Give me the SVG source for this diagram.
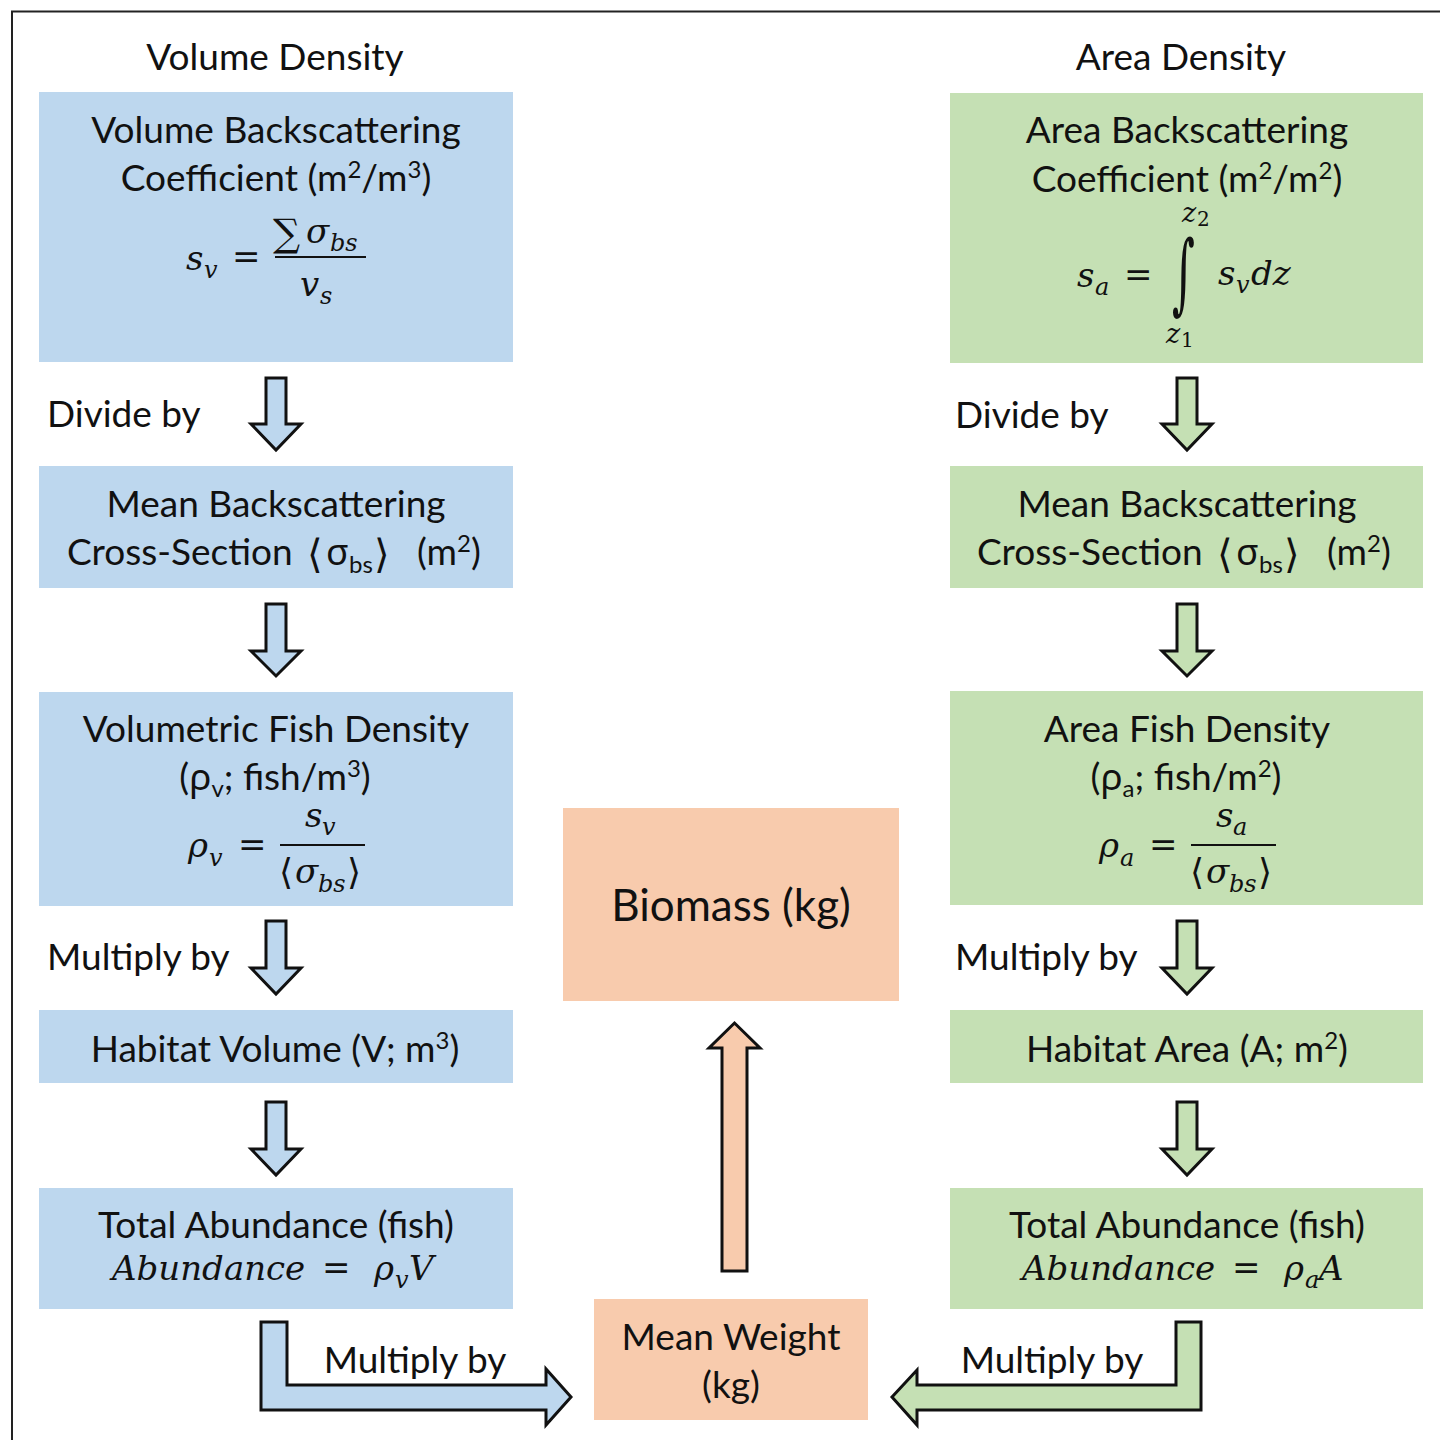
<svg xmlns="http://www.w3.org/2000/svg" width="1440" height="1440" viewBox="0 0 1440 1440">
<style>
.t{font-family:Lato,"Noto Sans","DejaVu Sans",sans-serif;font-size:37px;fill:#111}
.c{text-anchor:middle}
.g{font-family:"Noto Sans","DejaVu Sans",sans-serif}
.m{font-family:"DejaVu Serif","Liberation Serif",serif;font-style:italic;font-size:34px;fill:#111}
.mu{font-family:"DejaVu Serif","Liberation Serif",serif;font-size:34px;fill:#111}
.br{font-family:"DejaVu Sans",sans-serif;font-size:40px;fill:#111}
.mb{font-family:"DejaVu Serif",serif;font-size:36px;fill:#111}
.sb{font-size:24px}
.blue{fill:#BDD7EE}
.green{fill:#C5E0B4}
.orange{fill:#F8CBAD}
.arr{stroke:#111;stroke-width:3;stroke-linejoin:miter}
.bar{stroke:#111;stroke-width:2}
</style>
<rect width="1440" height="1440" fill="#fff"/>
<path d="M12,1440 V11.5 H1440" fill="none" stroke="#222" stroke-width="2"/>

<text class="t c" x="275" y="70">Volume Density</text>
<text class="t c" x="1181" y="70">Area Density</text>

<g id="vol-backscatter">
<rect class="blue" x="39" y="92" width="474" height="270"/>
<text class="t c" x="276" y="143">Volume Backscattering</text>
<text class="t c" x="276" y="191">Coefficient (m<tspan dy="-13" font-size="24">2</tspan><tspan dy="13">/m</tspan><tspan dy="-13" font-size="24">3</tspan><tspan dy="13">)</tspan></text>
<text class="m" x="186" y="270">s</text><text class="m sb" x="204" y="278">v</text>
<text class="mu" x="232" y="268">=</text>
<text class="mu" x="273" y="246" style="font-size:38px">∑</text>
<text class="m" x="306" y="243">σ</text><text class="m sb" x="330" y="251">bs</text>
<line class="bar" x1="275" y1="257" x2="366" y2="257"/>
<text class="m" x="300" y="296">v</text><text class="m sb" x="320" y="304">s</text>
</g>

<g id="area-backscatter">
<rect class="green" x="950" y="93" width="473" height="270"/>
<text class="t c" x="1187" y="143">Area Backscattering</text>
<text class="t c" x="1187" y="192">Coefficient (m<tspan dy="-13" font-size="24">2</tspan><tspan dy="13">/m</tspan><tspan dy="-13" font-size="24">2</tspan><tspan dy="13">)</tspan></text>
<text class="m" x="1077" y="287">s</text><text class="m sb" x="1095" y="295">a</text>
<text class="mu" x="1124" y="286">=</text>
<text class="mu" transform="translate(1172,303) scale(1,2)" style="font-size:44px">∫</text>
<text class="m" x="1182" y="222" style="font-size:27px">z</text><text class="mu" x="1197" y="226" style="font-size:20px">2</text>
<text class="m" x="1166" y="343" style="font-size:27px">z</text><text class="mu" x="1181" y="347" style="font-size:20px">1</text>
<text class="m" x="1218" y="285">s</text><text class="m sb" x="1236" y="293">v</text><text class="m" x="1251" y="285">dz</text>
</g>

<g id="vol-mean-sigma">
<rect class="blue" x="39" y="466" width="474" height="122"/>
<text class="t c" x="276" y="517">Mean Backscattering</text>
<text class="t" x="67" y="565">Cross-Section</text>
<text class="br" x="307" y="568">⟨</text>
<text class="t g" x="326" y="565">σ</text><text class="t sb" x="349" y="573">bs</text>
<text class="br" x="374" y="568">⟩</text>
<text class="t" x="417" y="565">(m<tspan dy="-13" font-size="24">2</tspan><tspan dy="13">)</tspan></text>
</g>

<g id="area-mean-sigma">
<rect class="green" x="950" y="466" width="473" height="122"/>
<text class="t c" x="1187" y="517">Mean Backscattering</text>
<text class="t" x="977" y="565">Cross-Section</text>
<text class="br" x="1217" y="568">⟨</text>
<text class="t g" x="1236" y="565">σ</text><text class="t sb" x="1259" y="573">bs</text>
<text class="br" x="1284" y="568">⟩</text>
<text class="t" x="1327" y="565">(m<tspan dy="-13" font-size="24">2</tspan><tspan dy="13">)</tspan></text>
</g>

<g id="vol-fish-density">
<rect class="blue" x="39" y="692" width="474" height="214"/>
<text class="t c" x="276" y="742">Volumetric Fish Density</text>
<text class="t c" x="275" y="790">(<tspan class="g">ρ</tspan><tspan dy="7" font-size="24">v</tspan><tspan dy="-7">; fish/m</tspan><tspan dy="-13" font-size="24">3</tspan><tspan dy="13">)</tspan></text>
<text class="m" x="188" y="857">ρ</text><text class="m sb" x="209" y="866">v</text>
<text class="mu" x="238" y="856">=</text>
<line class="bar" x1="280" y1="845" x2="365" y2="845"/>
<text class="m" x="305" y="827">s</text><text class="m sb" x="322" y="835">v</text>
<text class="mb" x="279" y="884">⟨</text>
<text class="m" x="295" y="883">σ</text><text class="m sb" x="318" y="892">bs</text>
<text class="mb" x="347" y="884">⟩</text>
</g>

<g id="area-fish-density">
<rect class="green" x="950" y="691" width="473" height="214"/>
<text class="t c" x="1187" y="742">Area Fish Density</text>
<text class="t c" x="1186" y="790">(<tspan class="g">ρ</tspan><tspan dy="7" font-size="24">a</tspan><tspan dy="-7">; fish/m</tspan><tspan dy="-13" font-size="24">2</tspan><tspan dy="13">)</tspan></text>
<text class="m" x="1099" y="857">ρ</text><text class="m sb" x="1120" y="866">a</text>
<text class="mu" x="1149" y="856">=</text>
<line class="bar" x1="1191" y1="845" x2="1276" y2="845"/>
<text class="m" x="1216" y="827">s</text><text class="m sb" x="1233" y="835">a</text>
<text class="mb" x="1190" y="884">⟨</text>
<text class="m" x="1206" y="883">σ</text><text class="m sb" x="1229" y="892">bs</text>
<text class="mb" x="1258" y="884">⟩</text>
</g>

<g id="vol-habitat">
<rect class="blue" x="39" y="1010" width="474" height="73"/>
<text class="t c" x="275" y="1062">Habitat Volume (V; m<tspan dy="-13" font-size="24">3</tspan><tspan dy="13">)</tspan></text>
</g>

<g id="area-habitat">
<rect class="green" x="950" y="1010" width="473" height="73"/>
<text class="t c" x="1187" y="1062">Habitat Area (A; m<tspan dy="-13" font-size="24">2</tspan><tspan dy="13">)</tspan></text>
</g>

<g id="vol-abundance">
<rect class="blue" x="39" y="1188" width="474" height="121"/>
<text class="t c" x="276" y="1238">Total Abundance (fish)</text>
<text class="m" x="112" y="1280">Abundance</text>
<text class="mu" x="322" y="1279">=</text>
<text class="m" x="374" y="1280">ρ</text><text class="m sb" x="395" y="1288">v</text><text class="m" x="409" y="1280">V</text>
</g>

<g id="area-abundance">
<rect class="green" x="950" y="1188" width="473" height="121"/>
<text class="t c" x="1187" y="1238">Total Abundance (fish)</text>
<text class="m" x="1022" y="1280">Abundance</text>
<text class="mu" x="1232" y="1279">=</text>
<text class="m" x="1284" y="1280">ρ</text><text class="m sb" x="1305" y="1288">a</text><text class="m" x="1319" y="1280">A</text>
</g>

<g id="biomass">
<rect class="orange" x="563" y="808" width="336" height="193"/>
<text class="t c" x="731" y="921" style="font-size:44px">Biomass (kg)</text>
</g>

<g id="mean-weight">
<rect class="orange" x="594" y="1299" width="274" height="121"/>
<text class="t c" x="731" y="1350">Mean Weight</text>
<text class="t c" x="731" y="1398">(kg)</text>
</g>

<g id="connectors">
<path class="arr blue" d="M266,378 H286 V424 H301 L276,450 L251,424 H266 Z"/>
<path class="arr blue" d="M266,604 H286 V651 H301 L276,676 L251,651 H266 Z"/>
<path class="arr blue" d="M266,921 H286 V968 H301 L276,994 L251,968 H266 Z"/>
<path class="arr blue" d="M266,1102 H286 V1149 H301 L276,1175 L251,1149 H266 Z"/>
<path class="arr green" d="M1177,378 H1197 V424 H1212 L1187,450 L1162,424 H1177 Z"/>
<path class="arr green" d="M1177,604 H1197 V651 H1212 L1187,676 L1162,651 H1177 Z"/>
<path class="arr green" d="M1177,921 H1197 V968 H1212 L1187,994 L1162,968 H1177 Z"/>
<path class="arr green" d="M1177,1102 H1197 V1149 H1212 L1187,1175 L1162,1149 H1177 Z"/>
<path class="arr orange" d="M722,1271 V1048 H709 L734.5,1023 L760,1048 H747 V1271 Z"/>
<path class="arr blue" d="M261,1322 H287 V1385 H546 V1369 L571,1397 L546,1425 V1410 H261 Z"/>
<path class="arr green" d="M1201,1322 H1176 V1385 H917 V1370 L892,1397 L917,1425 V1410 H1201 Z"/>
<text class="t" x="47" y="427">Divide by</text>
<text class="t" x="955" y="428">Divide by</text>
<text class="t" x="47" y="970">Multiply by</text>
<text class="t" x="955" y="970">Multiply by</text>
<text class="t c" x="415" y="1373">Multiply by</text>
<text class="t c" x="1052" y="1373">Multiply by</text>
</g>
</svg>
